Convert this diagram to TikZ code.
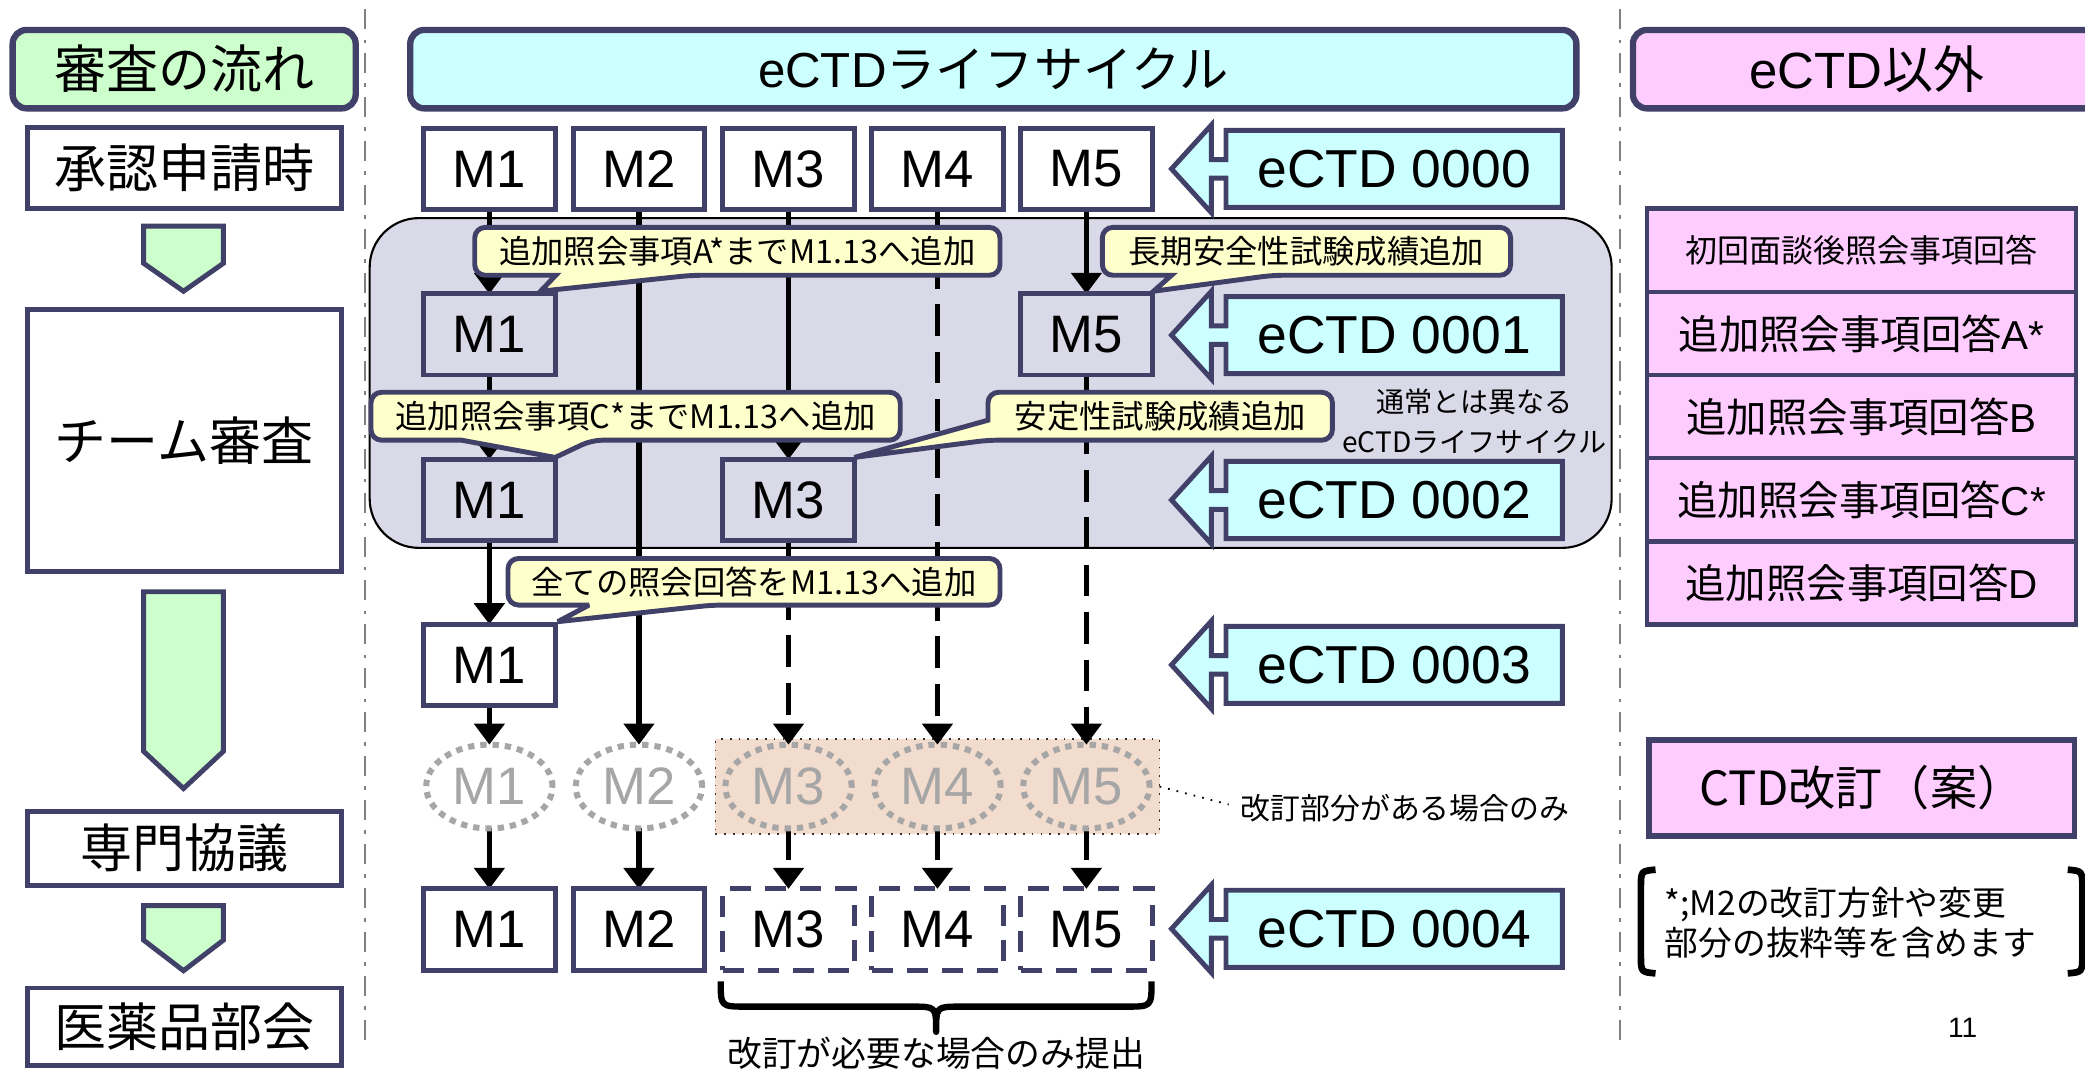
\documentclass[tikz,border=0pt]{standalone}
\usepackage{fontspec}
\setmainfont{Liberation Sans}
\newfontfamily\jp{Noto Sans CJK JP}
\usetikzlibrary{arrows.meta,shapes.geometric,calc}
\pgfdeclarelayer{bg}
\pgfdeclarelayer{lines}
\pgfsetlayers{bg,lines,main}
\definecolor{navy}{RGB}{64,64,104}
\definecolor{hgreen}{RGB}{204,255,204}
\definecolor{hcyan}{RGB}{204,255,255}
\definecolor{hpink}{RGB}{255,204,255}
\definecolor{cyell}{RGB}{255,255,204}
\definecolor{regiongray}{RGB}{217,217,232}
\definecolor{peach}{RGB}{242,220,206}
\definecolor{ghost}{RGB}{166,166,166}
\newcommand\pxu{0.37834pt}
\tikzset{
  every node/.append style={inner sep=0pt, outer sep=0pt},
  hdr/.style={draw=navy, line width=1.8pt, rounded corners=4pt, minimum height=59*\pxu, font=\jp\fontsize{14.8}{17}\selectfont},
  lbox/.style={draw=navy, line width=1.4pt, fill=white, minimum width=236*\pxu, font=\jp\fontsize{14.8}{17}\selectfont},
  mbox/.style={draw=navy, line width=1.4pt, fill=white, minimum width=99*\pxu, minimum height=61*\pxu, font=\fontsize{15}{17}\selectfont},
  mreg/.style={mbox, fill=regiongray},
  mdash/.style={mbox, dash pattern=on 6pt off 4pt},
  ghostc/.style={ellipse, draw=ghost, line width=1.7pt, dash pattern=on 1.8pt off 1.7pt, minimum width=95*\pxu, minimum height=63*\pxu, text=ghost, font=\fontsize{15}{17}\selectfont},
  conn/.style={draw=black, line width=1.6pt, -{Triangle[width=8.5pt,length=6pt]}},
  dconn/.style={conn, dash pattern=on 9pt off 4.5pt},
  ectd/.style={draw=navy, line width=1.4pt, fill=hcyan, line join=miter},
  ectdtext/.style={font=\fontsize{15.2}{17}\selectfont, minimum width=252*\pxu, minimum height=58*\pxu},
  callout/.style={draw=navy, line width=1.4pt, fill=cyell, rounded corners=3pt, line join=miter, miter limit=4},
  ctext/.style={font=\jp\fontsize{9.2}{11}\selectfont},
  pbox/.style={draw=navy, line width=1.3pt, fill=hpink, minimum width=322.6*\pxu, minimum height=62.5*\pxu, font=\jp\fontsize{11.5}{14}\selectfont},
  garrow/.style={draw=navy, line width=1.4pt, fill=hgreen, line join=miter},
  sepline/.style={draw=gray, line width=0.7pt, dash pattern=on 5.7pt off 2.9pt on 1pt off 2.9pt},
}
\newcommand\ectdlabel[3]{%
  \draw[ectd] (1175,#2-29) -- (922,#2-29) -- (922,#2-7) -- (911,#2-7) -- (911,#2-33) -- (881,#2) -- (911,#2+33) -- (911,#2+7) -- (922,#2+7) -- (922,#2+29) -- (1175,#2+29) -- cycle;
  \node[ectdtext] (#1) at (1048.5,#2) {#3};}
\begin{document}
\begin{tikzpicture}[x=0.37834pt, y=-0.37834pt]
\useasboundingbox (0,0) rectangle (1568,805);
\begin{pgfonlayer}{bg}
  \fill[white] (0,0) rectangle (1568,805);
  \draw[fill=regiongray, draw=black, line width=0.6pt, rounded corners=14pt] (278,164) rectangle (1212,412);
  \node[draw=black!80, dotted, line width=0.5pt, fill=peach, minimum width=334*\pxu, minimum height=71*\pxu] (pk) at (705,591.5) {};
\end{pgfonlayer}

% separators
\draw[sepline] (274.6,7) -- (274.6,787);
\draw[sepline] (1218.3,7) -- (1218.3,787);

% headers
\node[hdr, fill=hgreen, minimum width=258*\pxu] (hflow) at (138.5,52) {審査の流れ};
\node[hdr, fill=hcyan, minimum width=877*\pxu, font=\jp\fontsize{14}{17}\selectfont] (hlife) at (747,52) {{\rmfamily eCTD}ライフサイクル};
\node[hdr, fill=hpink, minimum width=352*\pxu, font=\jp\fontsize{14.5}{17}\selectfont] (hother) at (1404,52) {{\rmfamily eCTD}以外};

% left column
\node[lbox, minimum height=61*\pxu] (l1) at (138.5,126.5) {承認申請時};
\node[lbox, minimum height=197*\pxu] (l2) at (138.5,331.5) {チーム審査};
\node[lbox, minimum height=56*\pxu] (l3) at (138.5,638) {専門協議};
\node[lbox, minimum height=58*\pxu] (l4) at (138.5,772) {医薬品部会};
\draw[garrow] (108,170) -- (168,170) -- (168,198) -- (138,219) -- (108,198) -- cycle;
\draw[garrow] (108,445) -- (168,445) -- (168,565) -- (138,593) -- (108,565) -- cycle;
\draw[garrow] (108,681) -- (168,681) -- (168,707) -- (138,730) -- (108,707) -- cycle;

% module boxes
\node[mbox] (m10) at (368,127) {M1};
\node[mbox] (m20) at (480.5,127) {M2};
\node[mbox] (m30) at (593,127) {M3};
\node[mbox] (m40) at (705,127) {M4};
\node[mbox] (m50) at (817,127) {M5};
\node[mreg] (m11) at (368,251.5) {M1};
\node[mreg] (m51) at (817,251.5) {M5};
\node[mreg] (m12) at (368,376) {M1};
\node[mreg] (m32) at (593,376) {M3};
\node[mbox] (m13) at (368,500) {M1};
\node[ghostc] (o1) at (368,591.5) {M1};
\node[ghostc] (o2) at (480.5,591.5) {M2};
\node[ghostc] (o3) at (593,591.5) {M3};
\node[ghostc] (o4) at (705,591.5) {M4};
\node[ghostc] (o5) at (817,591.5) {M5};
\node[mbox] (m15) at (368,699) {M1};
\node[mbox] (m25) at (480.5,699) {M2};
\node[mdash] (m35) at (593,699) {M3};
\node[mdash] (m45) at (705,699) {M4};
\node[mdash] (m55) at (817,699) {M5};

% connectors
\begin{pgfonlayer}{lines}
  \draw[conn] (m10.south) -- (m11.north);
  \draw[conn] (m11.south) -- (m12.north);
  \draw[conn] (m12.south) -- (m13.north);
  \draw[conn] (m13.south) -- (o1.north);
  \draw[conn] (o1.south) -- (m15.north);
  \draw[conn] (m20.south) -- (o2.north);
  \draw[conn] (o2.south) -- (m25.north);
  \draw[conn] (m30.south) -- (m32.north);
  \draw[dconn] (m32.south) -- (o3.north);
  \draw[dconn] (o3.south) -- (m35.north);
  \draw[dconn] (m40.south) -- (o4.north);
  \draw[dconn] (o4.south) -- (m45.north);
  \draw[conn] (m50.south) -- (m51.north);
  \draw[dconn] (m51.south) -- (o5.north);
  \draw[dconn] (o5.south) -- (m55.north);
\end{pgfonlayer}

% eCTD sequence labels
\ectdlabel{e0}{127}{eCTD 0000}
\ectdlabel{e1}{252}{eCTD 0001}
\ectdlabel{e2}{376}{eCTD 0002}
\ectdlabel{e3}{500}{eCTD 0003}
\ectdlabel{e4}{698.5}{eCTD 0004}

\node[font=\jp\fontsize{8}{11.4}\selectfont, align=center] (unusual) at (1109,316.5) {通常とは異なる\\eCTDライフサイクル};

% callouts
\draw[callout] (418,207) -- (357,207) -- (357,171) -- (752,171) -- (752,207) -- (520,207) [sharp corners] -- ($(m11.north east)+(-11,-2)$) -- cycle;
\node[ctext] (c1) at (554.5,189) {追加照会事項A*までM1.13へ追加};
\draw[callout] (881,207) -- (829,207) -- (829,171) -- (1136,171) -- (1136,207) -- (957,207) [sharp corners] -- ($(m51.north east)+(1,-2)$) -- cycle;
\node[ctext] (c2) at (982.5,189) {長期安全性試験成績追加};
\draw[callout] (347,331) -- (279,331) -- (279,295) -- (677,295) -- (677,331) -- (445,331) [sharp corners] -- ($(m12.north east)+(0,-1.5)$) -- cycle;
\node[ctext] (c3) at (478,313) {追加照会事項C*までM1.13へ追加};
\draw[callout] (743,316) -- (743,295) -- (1002,295) -- (1002,331) -- (743,331) [sharp corners] -- ($(m32.north east)+(0,-1.5)$) -- cycle;
\node[ctext] (c4) at (872.5,313) {安定性試験成績追加};
\draw[callout] (443,455) -- (382,455) -- (382,420) -- (752,420) -- (752,455) -- (536,455) [sharp corners] -- ($(m13.north east)+(2,-2)$) -- cycle;
\node[ctext] (c5) at (567,437.5) {全ての照会回答をM1.13へ追加};

% revised-part note
\node[font=\jp\fontsize{8.5}{10}\selectfont, anchor=west] (note1) at (933,608) {改訂部分がある場合のみ};
\draw[dotted, line width=0.5pt] (pk.east) -- ($(note1.west)+(-9,-3)$);

% brace
\draw[line width=1.8pt, line join=round] (542,738) .. controls (542,757) .. (561,757) -- (686,757) .. controls (704,757) .. (704,776) .. controls (704,757) .. (722,757) -- (847,757) .. controls (866,757) .. (866,738);
\node[font=\jp\fontsize{9.9}{12}\selectfont] (brnote) at (704,792) {改訂が必要な場合のみ提出};

% right column
\node[pbox, font=\jp\fontsize{9.1}{11}\selectfont] (p1) at (1400,188.25) {初回面談後照会事項回答};
\node[pbox] (p2) at (1400,250.75) {追加照会事項回答{\rmfamily A*}};
\node[pbox] (p3) at (1400,313.25) {追加照会事項回答{\rmfamily B}};
\node[pbox] (p4) at (1400,375.75) {追加照会事項回答{\rmfamily C*}};
\node[pbox] (p5) at (1400,438.25) {追加照会事項回答{\rmfamily D}};
\node[draw=navy, line width=1.6pt, fill=hpink, minimum width=320*\pxu, minimum height=72*\pxu, font=\jp\fontsize{13.4}{16}\selectfont] (ctd) at (1400,592.5) {CTD改訂（案）};
\draw[line width=1.9pt] (1245,654) .. controls (1234,655) .. (1234,668) -- (1234,718) .. controls (1234,731) .. (1245,732);
\draw[line width=1.9pt] (1555,654) .. controls (1566,655) .. (1566,668) -- (1566,718) .. controls (1566,731) .. (1555,732);
\node[font=\jp\fontsize{9.6}{11.2}\selectfont, align=left, anchor=west] (m2note) at (1252,694) {*;M2の改訂方針や変更\\部分の抜粋等を含めます};
\node[font=\fontsize{8}{10}\selectfont] (pnum) at (1476,773) {11};
\end{tikzpicture}
\end{document}
